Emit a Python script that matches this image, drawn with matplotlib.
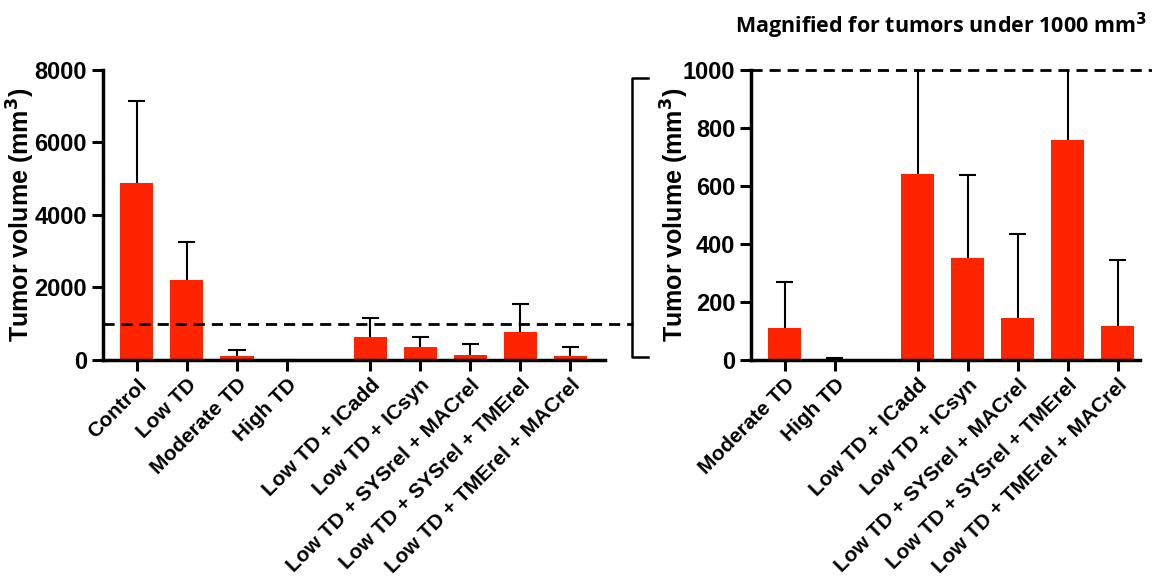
import numpy as np
import matplotlib
matplotlib.use('Agg')
from matplotlib import pyplot as plt
from matplotlib.lines import Line2D

plt.rcParams['font.family'] = ['Liberation Sans', 'DejaVu Sans']
plt.rcParams['font.weight'] = 'bold'

# left panel: all groups
groups_all = ['Control', 'Low TD', 'Moderate TD', 'High TD',
              'Low TD + ICadd', 'Low TD + ICsyn', 'Low TD + SYSrel + MACrel',
              'Low TD + SYSrel + TMErel', 'Low TD + TMErel + MACrel']
mean_all = [4870, 2200, 110, 4, 640, 350, 146, 759, 117]
err_all = [2280, 1050, 160, 4, 507, 288, 290, 782, 228]

# right panel: magnified, under 1000 mm3
groups_mag = groups_all[2:]
mean_mag = mean_all[2:]
err_mag = err_all[2:]

threshold = 1000
bar_color = '#ff2400'

fig = plt.figure(figsize=(11.52, 5.84), dpi=100)
ax1 = fig.add_axes([0.0894, 0.3836, 0.4358, 0.4966])
ax2 = fig.add_axes([0.652, 0.3836, 0.3377, 0.4966])


def positions(n, gap_after=2, gap=0.66):
    pos = np.arange(n, dtype=float)
    pos[gap_after:] += gap
    return pos


def bars(ax, x, mean, err):
    mean = np.array(mean, dtype=float)
    top = mean + np.array(err, dtype=float)
    ax.bar(x, mean, width=0.66, color=bar_color, zorder=2)
    # upper error bars only (line + cap)
    ax.vlines(x, mean, top, color='black', lw=1.5, zorder=1)
    ax.hlines(top, x - 0.17, x + 0.17, color='black', lw=1.5, zorder=1)


def style(ax, ymax, step):
    for s in ['top', 'right']:
        ax.spines[s].set_visible(False)
    for s in ['left', 'bottom']:
        ax.spines[s].set_linewidth(2.5)
    ax.tick_params(width=2.2, length=8, labelsize=17)
    ax.tick_params(axis='x', labelsize=15, pad=3)
    ax.set_ylim(0, ymax)
    ax.set_yticks(np.arange(0, ymax + 1, step))
    ax.set_ylabel('Tumor volume (mm$^\\mathbf{3}$)', fontsize=18, fontweight='bold')


# left chart
x1 = positions(len(groups_all), gap_after=4)
bars(ax1, x1, mean_all, err_all)
ax1.set_xlim(-0.68, x1[-1] + 0.7)
style(ax1, 8000, 2000)
ax1.set_xticks(x1)
ax1.set_xticklabels(groups_all, rotation=45, ha='right', rotation_mode='anchor')
ax1.yaxis.set_label_coords(-0.132, 0.5)

# dashed threshold line running to the bracket
ax1.axhline(threshold, xmin=0, xmax=1.055, color='black', ls=(0, (4, 2.5)),
            lw=2, clip_on=False, zorder=3)

# bracket linking the two panels
bx0, bx1 = 632 / 1152, 648 / 1152
by_top, by_bot = 1 - 78 / 584, 1 - 357 / 584
fig.add_artist(Line2D([bx1, bx0, bx0, bx1], [by_top, by_top, by_bot, by_bot],
                      color='black', lw=1.8, transform=fig.transFigure))

# right chart
x2 = positions(len(groups_mag), gap_after=2)
bars(ax2, x2, mean_mag, err_mag)
ax2.set_xlim(-0.67, x2[-1] + 0.45)
style(ax2, 1000, 200)
ax2.set_xticks(x2)
ax2.set_xticklabels(groups_mag, rotation=45, ha='right', rotation_mode='anchor')
ax2.yaxis.set_label_coords(-0.155, 0.5)
ax2.axhline(threshold, xmin=0, xmax=1.04, color='black', ls=(0, (4, 2.5)),
            lw=2, clip_on=False, zorder=3)

fig.text(0.996, 0.955, 'Magnified for tumors under 1000 mm$^\\mathbf{3}$',
         ha='right', va='center', fontsize=15.5, fontweight='bold',
         family=['Open Sans', 'DejaVu Sans'])

fig.savefig('out.png', dpi=100)
